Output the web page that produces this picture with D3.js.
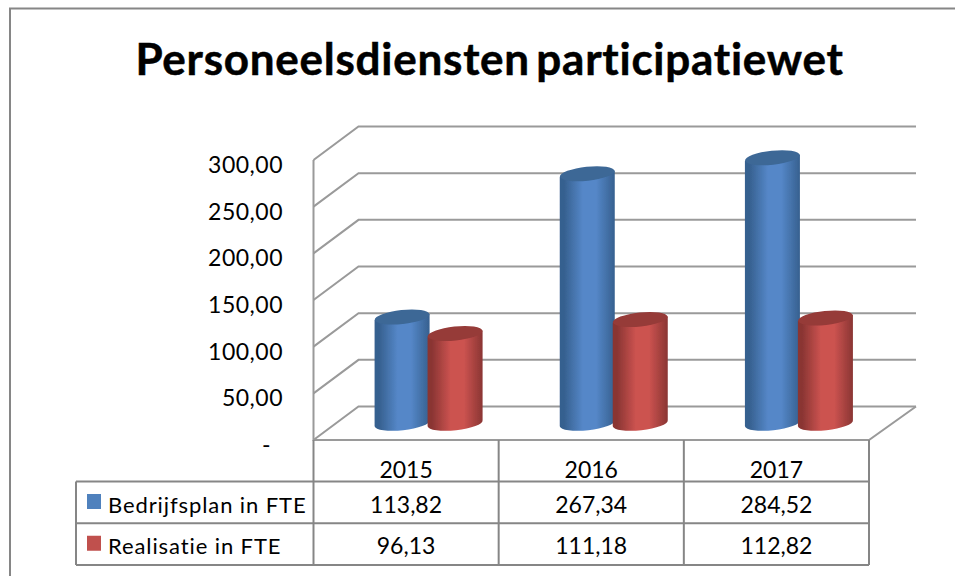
<!DOCTYPE html>
<html>
<head>
<meta charset="utf-8">
<script src="https://cdn.jsdelivr.net/npm/d3@7"></script>
<style>
html,body{margin:0;padding:0;background:#fff;}
svg{display:block;}
text{font-family:Lato,"Open Sans",sans-serif;fill:#000;}
</style>
</head>
<body>
<div id="chart"></div>
<script>
var w=955;
var h=576;
var title="Personeelsdiensten participatiewet";
var years=["2015","2016","2017"];
var seriesNames=["Bedrijfsplan in FTE","Realisatie in FTE"];
var bedrijfsplan=[113.82,267.34,284.52];
var realisatie=[96.13,111.18,112.82];
var yTicks=[0,50,100,150,200,250,300];
var seriesValues=[bedrijfsplan,realisatie];
var seriesColors=[
  {edge:"#36608f",mid:"#5587c8",top:"#3c6796",key:"#4f81bd"},
  {edge:"#8a3533",mid:"#cc5350",top:"#963a38",key:"#c0504d"}
];
var grid="#9a9a9a";
var border="#868686";

var svg=d3.select("#chart")
  .append("svg")
  .attr("width",w)
  .attr("height",h);

var fmt=function(v){return v.toFixed(2).replace(".",",");};

// front plane of the 3d box, the back wall is shifted by dx,dy
var dx=45;
var dy=-33.5;
var y=d3.scaleLinear().domain([0,300]).range([440,160]);
var x=d3.scaleBand().domain(years).range([313.5,869]);
var xSeries=d3.scaleBand().domain([0,1]).range([-53,53]);

var defs=svg.append("defs");
seriesColors.forEach(function(c,i){
  var g=defs.append("linearGradient").attr("id","cyl"+i);
  g.append("stop").attr("offset","0%").attr("stop-color",c.edge);
  g.append("stop").attr("offset","8%").attr("stop-color",c.edge);
  g.append("stop").attr("offset","42%").attr("stop-color",c.mid);
  g.append("stop").attr("offset","66%").attr("stop-color",c.mid);
  g.append("stop").attr("offset","100%").attr("stop-color",c.edge);
});
defs.append("filter").attr("id","soft")
  .append("feGaussianBlur").attr("stdDeviation",0.6);

// outer frame, only the top and left are inside the picture
svg.append("path")
  .attr("d","M10,"+h+"V8.5H"+w)
  .attr("fill","none")
  .attr("stroke",border)
  .attr("stroke-width",2);

svg.append("text")
  .attr("x",489.5)
  .attr("y",75)
  .attr("text-anchor","middle")
  .attr("font-size",44)
  .attr("font-weight",700)
  .attr("letter-spacing",0.75)
  .attr("word-spacing",-5)
  .attr("stroke","#000")
  .attr("stroke-width",0.5)
  .text(title);

// walls and floor
var walls=svg.append("g")
  .attr("fill","none")
  .attr("stroke",grid)
  .attr("stroke-width",2);
walls.selectAll("path.gl")
  .data(yTicks)
  .enter()
  .append("path")
  .attr("class","gl")
  .attr("d",function(d){
    return "M"+x.range()[0]+","+y(d)+"L"+(x.range()[0]+dx)+","+(y(d)+dy)+"H"+(x.range()[1]+dx+2);
  });
walls.append("path")
  .attr("d","M"+x.range()[0]+","+y(300)+"V"+y(0)+"H"+x.range()[1]+"L"+(x.range()[1]+dx+2)+","+(y(0)+dy));

// y labels
svg.append("g")
  .selectAll("text")
  .data(yTicks)
  .enter()
  .append("text")
  .attr("x",function(d){return d==0?271:283;})
  .attr("y",function(d){return y(d)+13;})
  .attr("text-anchor","end")
  .attr("font-size",23)
  .attr("letter-spacing",0.5)
  .text(function(d){return d==0?"-":fmt(d);});

// cylinders
var rx=27.5;
var ry=7;
var tilt=-6;
var cyl=svg.append("g").attr("filter","url(#soft)");
years.forEach(function(yr,j){
  seriesValues.forEach(function(vals,i){
    var cx=x(yr)+x.bandwidth()/2+dx/2+xSeries(i)+xSeries.bandwidth()/2;
    var by=y(0)+dy/2;
    var ty=y(vals[j])+dy/2;
    var g=cyl.append("g");
    g.append("path")
      .attr("d","M"+(cx-rx)+","+(ty+3)+"V"+(by+3)+"A"+rx+","+ry+" "+tilt+" 0 0 "+(cx+rx)+","+(by-3)+"V"+(ty-3)+"Z")
      .attr("fill","url(#cyl"+i+")");
    g.append("ellipse")
      .attr("cx",cx)
      .attr("cy",ty)
      .attr("rx",rx)
      .attr("ry",ry)
      .attr("transform","rotate("+tilt+" "+cx+" "+ty+")")
      .attr("fill",seriesColors[i].top);
  });
});

// data table below the plot
var rowY=d3.scaleBand().domain([0,1]).range([481.5,565]);
var table=svg.append("g")
  .attr("fill","none")
  .attr("stroke",border)
  .attr("stroke-width",2);
var colEdges=x.domain().map(function(d){return x(d);}).concat([x.range()[1]]);
table.selectAll("path.col")
  .data(colEdges)
  .enter()
  .append("path")
  .attr("class","col")
  .attr("d",function(d){return "M"+d+","+y(0)+"V565";});
table.selectAll("path.row")
  .data([0,1,2])
  .enter()
  .append("path")
  .attr("class","row")
  .attr("d",function(d){
    var yy=481.5+d*rowY.bandwidth();
    return "M76,"+yy+"H"+x.range()[1];
  });
table.append("path").attr("d","M76,481.5V565");

svg.append("g")
  .selectAll("text")
  .data(years)
  .enter()
  .append("text")
  .attr("x",function(d){return x(d)+x.bandwidth()/2;})
  .attr("y",478)
  .attr("text-anchor","middle")
  .attr("font-size",23)
  .text(function(d){return d;});

seriesNames.forEach(function(name,i){
  var rowTop=rowY(i);
  svg.append("rect")
    .attr("x",87)
    .attr("y",rowTop+12.5)
    .attr("width",14)
    .attr("height",15)
    .attr("fill",seriesColors[i].key);
  svg.append("text")
    .attr("x",108)
    .attr("y",rowTop+31)
    .attr("font-size",22)
    .attr("letter-spacing",0.9)
    .text(name);
  svg.append("g")
    .selectAll("text")
    .data(seriesValues[i])
    .enter()
    .append("text")
    .attr("x",function(d,j){return x(years[j])+x.bandwidth()/2;})
    .attr("y",rowTop+31)
    .attr("text-anchor","middle")
    .attr("font-size",23)
    .text(function(d){return fmt(d);});
});
</script>
</body>
</html>
